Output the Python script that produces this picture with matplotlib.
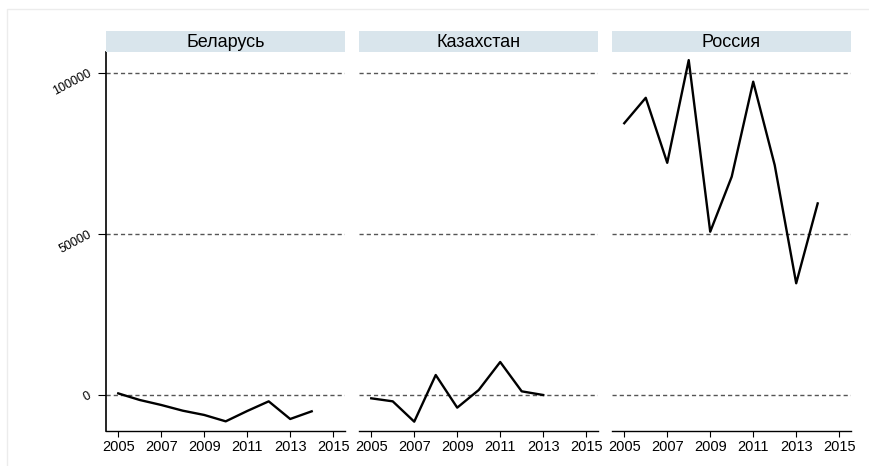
import matplotlib
matplotlib.use("Agg")
import matplotlib.pyplot as plt
from matplotlib.patches import Rectangle

plt.rcParams['font.family'] = ['Liberation Sans', 'DejaVu Sans']

countries = ["Беларусь", "Казахстан", "Россия"]
years_by = [2005, 2006, 2007, 2008, 2009, 2010, 2011, 2012, 2013, 2014]
belarus = [500, -1550, -3100, -4870, -6200, -8180, -4970, -1970, -7450, -5070]
years_kz = [2005, 2006, 2007, 2008, 2009, 2010, 2011, 2012, 2013]
kazakhstan = [-1030, -1970, -8280, 6210, -3930, 1550, 10250, 1140, 0]
years_ru = [2005, 2006, 2007, 2008, 2009, 2010, 2011, 2012, 2013, 2014]
russia = [84400, 92300, 72100, 104000, 50700, 67800, 97300, 71400, 34700, 59500]

series = [(years_by, belarus), (years_kz, kazakhstan), (years_ru, russia)]
xticks = [2005, 2007, 2009, 2011, 2013, 2015]
yticks = [0, 50000, 100000]
ytick_labels = ["0", "50000", "100000"]

W, H = 870, 466
fig = plt.figure(figsize=(W / 100, H / 100), dpi=100)
fig.patch.set_facecolor("white")
# faint outer border
fig.add_artist(Rectangle((7 / W, -0.05), 1.2, (H - 9) / H + 0.05, transform=fig.transFigure,
                         fill=False, edgecolor="#ececec", linewidth=1))

lefts = [106, 359, 612]
pw = 239
ax_bottom = 430.7
ax_top = 52
strip_top = 31

for i, (name, (xs, ys)) in enumerate(zip(countries, series)):
    ax = fig.add_axes([lefts[i] / W, (H - ax_bottom) / H, pw / W, (ax_bottom - ax_top) / H])
    ax.set_xlim(2004.43, 2015.55)
    ax.set_ylim(-11087, 106522)
    for yv in yticks:
        ax.axhline(yv, color="#555555", linewidth=1.0, linestyle=(0, (3, 2.2)), zorder=1)
    ax.plot(xs, ys, color="black", linewidth=1.7, zorder=3)
    for s in ["top", "right"]:
        ax.spines[s].set_visible(False)
    ax.spines["bottom"].set_linewidth(1.0)
    ax.set_xticks(xticks)
    ax.set_xticklabels([str(x) for x in xticks], fontsize=10.5)
    ax.tick_params(axis="x", length=4, width=0.8, pad=3, colors="black")
    if i == 0:
        ax.spines["left"].set_linewidth(1.2)
        ax.set_yticks(yticks)
        ax.set_yticklabels(ytick_labels, fontsize=9, rotation=28, rotation_mode="anchor",
                           ha="right", va="center")
        ax.tick_params(axis="y", length=6, width=0.8, pad=5, colors="black")
    else:
        ax.spines["left"].set_visible(False)
        ax.set_yticks([])
    # strip
    sax = fig.add_axes([lefts[i] / W, (H - ax_top) / H, pw / W, (ax_top - strip_top) / H])
    sax.set_facecolor("#d9e5ec")
    for s in sax.spines.values():
        s.set_visible(False)
    sax.set_xticks([])
    sax.set_yticks([])
    sax.text(0.5, 0.45, name, ha="center", va="center", fontsize=13, transform=sax.transAxes)

fig.savefig("out.png", dpi=100)
